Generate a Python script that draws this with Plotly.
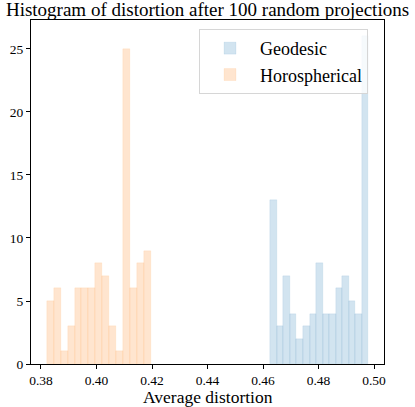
import numpy as np
import plotly.graph_objects as go

# histogram counts (15 bins each)
geodesic_counts = [13, 3, 7, 4, 2, 3, 4, 8, 4, 4, 6, 7, 5, 4, 26]
geodesic_range = [0.46263, 0.49795]
horo_counts = [5, 6, 1, 3, 6, 6, 6, 8, 7, 3, 1, 25, 6, 8, 9]
horo_range = [0.38205, 0.41964]

x_ticks = [0.38, 0.40, 0.42, 0.44, 0.46, 0.48, 0.50]
y_ticks = [0, 5, 10, 15, 20, 25]

FONT = "Liberation Serif"


def bins(rng, counts):
    edges = np.linspace(rng[0], rng[1], len(counts) + 1)
    return (edges[:-1] + edges[1:]) / 2, edges[1] - edges[0]


fig = go.Figure()
for name, rng, counts, color in [
    ("Geodesic", geodesic_range, geodesic_counts, "rgba(31,119,180,0.2)"),
    ("Horospherical", horo_range, horo_counts, "rgba(255,127,14,0.2)"),
]:
    centers, w = bins(rng, counts)
    fig.add_trace(go.Bar(x=centers, y=counts, width=w, name=name,
                         marker=dict(color=color, line=dict(width=0.4, color=color))))

fig.update_layout(
    width=415, height=407,
    margin=dict(l=31, r=31, t=20, b=43),
    paper_bgcolor="white", plot_bgcolor="white",
    barmode="overlay", bargap=0,
    font=dict(family=FONT, color="black", size=13.5),
    title=dict(text="Histogram of distortion after 100 random projections",
               x=0.5, xanchor="center", y=1 - 9 / 407, yanchor="middle",
               yref="container", automargin=False, font=dict(size=19, family=FONT)),
    legend=dict(x=0.476, y=0.974, xanchor="left", yanchor="top",
                bgcolor="rgba(255,255,255,0.8)", bordercolor="#d6d6d6", borderwidth=1,
                itemwidth=50, font=dict(size=18, family=FONT)),
)
# x axis title as an annotation so it sits where the reference has it
fig.add_annotation(text="Average distortion", x=0.5, xref="paper", y=-0.097, yref="paper",
                   xanchor="center", yanchor="middle", showarrow=False,
                   font=dict(size=17.5, family=FONT))
fig.update_xaxes(range=[0.3764, 0.5036], tickvals=x_ticks, automargin=False,
                 ticktext=["%.2f" % v for v in x_ticks],
                 showgrid=False, zeroline=False, showline=True, mirror=True,
                 linecolor="black", linewidth=1, ticks="outside", ticklen=4,
                 tickcolor="black")
fig.update_yaxes(range=[0, 27.3], tickvals=y_ticks, automargin=False,
                 showgrid=False, zeroline=False, showline=True, mirror=True,
                 linecolor="black", linewidth=1, ticks="outside", ticklen=4,
                 tickcolor="black")

# the page body has an 8px default margin; drop it so the figure sits at 0,0
fig.write_html("out.html", config={"displayModeBar": False},
               post_script="document.body.style.margin='0';")
